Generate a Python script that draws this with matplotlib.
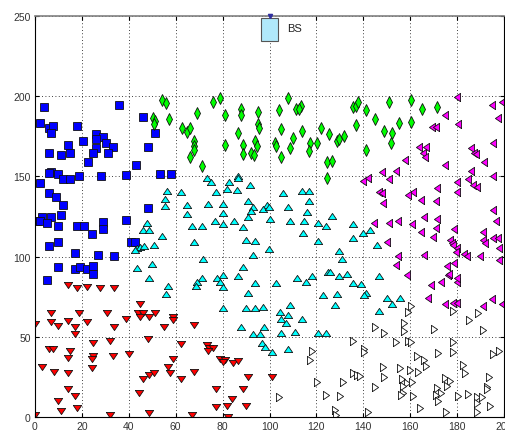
import numpy as np
import matplotlib
matplotlib.use("Agg")
import matplotlib.pyplot as plt
from matplotlib.patches import Rectangle

# node positions per cluster (x, y)
blue_pts = [(4.0,193.3),(35.8,194.4),(45.9,187.1),(2.1,183.0),(6.1,180.1),(7.8,181.3),(6.8,176.8),
            (17.8,181.3),(13.9,169.5),(20.3,172.2),(26.0,176.3),(28.9,174.3),(26.0,173.6),(30.3,170.7),
            (33.1,168.4),(26.0,168.0),(51.0,176.9),(48.0,168.6),(6.1,164.9),(11.1,163.4),(14.9,164.5),
            (24.9,164.5),(31.3,164.5),(48.0,130.0),(22.7,159.1),(43.1,157.2),(2.1,145.6),(6.8,152.5),
            (5.9,152.0),(9.9,151.4),(11.8,148.3),(14.9,148.3),(18.9,150.4),(28.0,150.4),(38.8,151.0),
            (53.3,151.4),(57.9,151.4),(6.1,139.4),(9.0,137.3),(11.8,132.3),(11.1,125.9),(2.9,124.8),
            (6.8,124.4),(0.7,122.3),(2.1,122.3),(5.0,120.9),(9.9,118.8),(17.8,118.8),(21.0,118.8),
            (28.9,121.7),(28.9,117.1),(24.2,114.0),(38.8,122.9),(6.1,106.4),(9.9,109.2),(17.1,102.2),
            (26.7,100.9),(33.8,100.5),(40.8,109.2),(42.6,109.2),(9.9,93.3),(17.1,92.2),(19.2,93.3),
            (22.0,92.2),(24.9,94.3),(24.9,89.1),(5.0,85.5)]

green_pts = [(54.0,197.5),(55.7,195.6),(50.4,186.7),(51.2,184.6),(50.7,182.6),(57.1,185.7),(69.0,189.4),
             (62.8,179.9),(65.0,177.8),(66.1,179.9),(67.8,172.2),(67.8,169.0),(75.8,196.1),(78.9,198.6),
             (81.0,188.2),(81.0,169.5),(87.8,191.9),(87.8,188.2),(95.0,190.2),(86.7,176.8),(88.8,169.5),
             (95.0,182.6),(95.7,179.9),(93.8,172.2),(94.8,169.0),(108.0,198.6),(104.2,191.5),(111.3,192.3),
             (113.3,194.0),(112.6,191.9),(104.8,179.4),(109.9,173.8),(114.0,178.4),(102.3,171.1),
             (102.8,168.7),(108.7,167.4),(117.3,170.7),(120.1,170.7),(122.0,180.1),(125.4,176.3),
             (67.8,166.4),(66.1,161.8),(71.1,156.2),(88.8,163.9),(92.0,164.9),(93.4,163.2),(104.9,161.8),
             (117.0,165.9),(124.6,159.1),(124.6,148.7),(128.9,172.2),(129.6,173.2),(131.8,175.3),
             (135.5,193.0),(136.9,193.6),(137.9,196.5),(136.9,182.1),(141.0,191.3),(145.0,185.7),
             (151.1,196.1),(148.8,178.4),(152.1,176.9),(151.8,170.7),(155.2,183.0),(160.2,197.7),
             (160.2,184.0),(164.9,192.3),(171.3,193.3),(141.0,166.5),(126.8,159.7)]

magenta_pts = [(179.8,199.2),(174.8,188.2),(180.5,182.6),(169.2,180.5),(171.0,180.5),(194.7,194.4),
               (199.3,196.5),(197.6,186.1),(195.4,170.7),(185.8,168.0),(163.9,168.3),(166.7,168.3),
               (165.6,164.9),(166.3,162.4),(187.2,164.9),(188.1,163.9),(157.8,160.3),(174.8,157.2),
               (191.5,158.7),(147.8,152.8),(153.9,153.1),(185.8,153.1),(140.0,147.2),(142.1,149.3),
               (151.1,148.3),(184.5,148.3),(179.8,146.2),(195.2,150.4),(186.6,144.5),(188.4,143.5),
               (146.8,140.0),(147.8,139.6),(171.6,142.5),(179.8,140.4),(161.1,140.4),(159.2,138.3),
               (164.5,135.2),(171.0,134.8),(148.5,133.3),(195.4,129.2),(196.6,122.3),(144.6,121.2),
               (151.0,121.2),(154.9,122.3),(165.9,125.0),(171.6,123.4),(160.6,120.2),(164.5,115.5),
               (171.0,117.6),(169.9,112.3),(178.8,117.1),(191.2,115.5),(150.0,109.2),(177.0,110.5),
               (177.7,108.4),(178.4,107.2),(179.8,105.1),(179.5,102.6),(191.2,110.3),(191.9,108.4),
               (195.4,111.3),(197.6,111.3),(197.9,105.1),(182.9,101.6),(184.1,100.5),(189.8,100.5),
               (197.9,98.0),(154.9,100.5),(165.9,100.9),(153.9,94.7),(158.8,88.5),(175.6,94.3),
               (178.8,96.0),(176.2,88.5),(176.6,89.1),(179.8,84.3),(180.1,86.4),(168.7,82.2),(173.0,83.9),
               (167.7,74.0),(174.8,70.4),(178.4,70.8),(179.8,71.2),(190.9,69.2),(195.0,73.3),(199.3,70.4)]

cyan_pts = [(47.9,120.9),(46.2,116.7),(48.7,116.7),(54.0,112.6),(43.4,105.1),(44.8,105.7),(46.5,106.4),
            (42.6,104.2),(50.9,107.2),(56.2,141.0),(55.4,135.8),(55.4,131.7),(43.6,92.6),(49.8,95.3),
            (48.7,86.4),(56.9,81.8),(73.2,148.7),(75.1,146.6),(86.7,150.4),(86.7,148.7),(82.9,146.6),
            (82.0,142.1),(86.0,141.6),(91.7,144.5),(62.1,140.0),(77.1,140.0),(64.7,132.3),(73.9,132.7),
            (80.0,132.7),(91.0,134.8),(93.1,131.0),(92.0,128.5),(98.8,132.1),(97.4,129.6),(99.9,130.7),
            (100.2,123.4),(64.7,126.5),(80.0,127.1),(76.8,122.3),(66.8,118.8),(71.1,118.8),(80.3,120.2),
            (84.9,122.3),(91.0,124.4),(88.8,118.2),(105.9,139.6),(113.7,141.0),(117.0,141.0),
            (117.0,134.8),(108.0,130.7),(115.9,127.9),(108.7,122.3),(114.7,122.3),(120.8,120.9),
            (124.0,118.8),(114.2,114.6),(120.8,109.8),(90.0,110.5),(93.9,109.8),(99.9,104.7),
            (93.1,100.9),(67.8,108.8),(71.8,98.4),(88.8,93.6),(86.7,88.0),(80.0,88.5),(77.5,86.4),
            (78.9,83.9),(80.0,81.2),(71.1,86.4),(69.0,84.3),(68.5,81.8),(93.8,83.5),(102.8,83.5),
            (111.6,86.4),(115.6,84.3),(118.0,87.7),(124.8,90.2),(126.8,125.4),(135.7,120.6),
            (135.7,111.3),(140.0,114.6),(142.9,116.5),(146.0,107.2),(129.6,103.6),(130.8,98.4),
            (125.8,90.5),(129.6,88.0),(133.2,89.1),(135.7,83.5),(138.9,82.9),(146.7,88.0),(55.9,76.6),
            (80.0,67.7),(90.0,67.7),(93.8,67.7),(97.1,68.7),(90.7,77.1),(122.7,76.0),(104.5,65.6),
            (108.7,69.8),(108.0,63.6),(104.9,60.9),(107.0,58.4),(113.7,60.9),(104.8,52.5),(110.9,53.1),
            (87.7,56.3),(97.8,56.3),(93.1,51.7),(95.9,51.7),(96.7,46.3),(98.1,43.8),(100.9,40.3),
            (108.0,42.2),(120.8,52.5),(124.0,52.5),(141.0,77.5),(140.3,76.0),(128.7,76.6),(127.9,69.8),
            (146.8,66.2),(150.0,74.0),(152.1,70.4),(155.7,74.0)]

red_pts = [(13.9,82.2),(17.8,80.2),(22.3,81.2),(27.7,80.2),(33.8,80.2),(0.0,57.8),(6.7,65.0),(6.7,59.0),
           (9.9,56.9),(13.9,60.0),(17.1,55.9),(17.1,51.7),(18.9,65.0),(22.3,59.0),(30.8,65.0),(33.8,55.9),
           (38.8,60.9),(44.8,70.2),(43.8,65.0),(45.9,64.6),(44.8,62.1),(48.7,62.1),(51.2,65.0),(55.1,55.9),
           (48.1,48.6),(6.1,42.4),(7.8,42.7),(14.9,41.1),(13.9,36.6),(24.9,45.9),(32.0,47.4),(24.9,38.0),
           (24.2,35.9),(24.2,30.3),(33.1,38.0),(40.2,39.3),(2.8,31.0),(8.1,28.2),(13.9,27.2),(13.9,17.3),
           (9.9,10.2),(10.9,3.9),(17.1,13.1),(18.0,5.4),(0.0,1.2),(32.0,1.2),(48.7,2.3),(44.5,15.1),
           (45.9,23.5),(48.7,26.2),(50.9,27.2),(56.9,31.0),(57.6,27.6),(58.7,62.1),(58.7,60.4),(67.9,57.3),
           (62.1,45.5),(73.2,44.9),(74.3,42.8),(76.0,42.8),(73.9,41.3),(58.7,36.1),(67.8,28.2),(62.1,24.0),
           (78.9,36.1),(81.0,35.5),(80.0,34.5),(84.6,33.8),(86.7,35.1),(91.0,24.7),(100.9,24.7),(77.1,17.3),
           (88.8,17.3),(84.1,11.0),(77.1,6.4),(82.0,6.9),(90.0,6.9),(66.8,1.2),(82.2,0.0)]

white_pts = [(118.0,41.3),(117.3,35.5),(120.1,22.0),(124.1,13.7),(104.2,12.3),(160.2,69.2),(159.2,65.6),
             (178.1,66.2),(189.0,64.6),(185.2,60.4),(145.0,55.9),(148.8,52.1),(157.4,58.8),(157.4,53.8),
             (170.1,54.6),(191.2,54.2),(135.7,47.4),(140.3,42.2),(140.3,40.7),(153.9,46.9),(159.2,47.5),
             (160.2,46.9),(178.1,46.9),(178.1,40.7),(172.0,40.1),(195.2,39.3),(197.9,41.3),(162.8,38.0),
             (165.9,35.5),(166.7,31.8),(135.7,27.6),(137.2,26.2),(138.6,25.5),(148.5,31.0),(148.8,25.1),
             (155.7,30.3),(159.9,29.3),(163.5,28.2),(182.6,32.4),(183.5,27.6),(193.7,25.1),(156.4,23.5),
             (158.8,21.4),(160.6,22.0),(174.8,24.1),(177.0,22.4),(175.6,19.3),(131.2,22.0),(145.0,18.9),
             (171.3,17.9),(173.1,14.8),(171.0,13.7),(172.0,10.2),(157.1,19.3),(157.1,14.8),(155.9,13.7),
             (161.3,13.1),(180.5,13.1),(184.8,14.3),(188.4,12.3),(190.5,12.6),(188.4,8.9),(192.6,18.9),
             (192.6,17.3),(194.0,6.9),(188.4,3.3),(164.2,5.4),(175.3,3.3),(130.1,13.1),(127.9,4.4),
             (128.4,1.2),(142.1,3.3)]

bs_x, bs_y = 100, 241.5
bs_label = "BS"

xticks = [0, 20, 40, 60, 80, 100, 120, 140, 160, 180, 200]
yticks = [0, 50, 100, 150, 200, 250]

# MATLAB-like triangles: wider than tall
tri_up = [(-1, -0.74), (1, -0.74), (0, 0.74), (-1, -0.74)]
tri_down = [(-1, 0.74), (1, 0.74), (0, -0.74), (-1, 0.74)]
tri_left = [(0.74, -1), (0.74, 1), (-0.74, 0), (0.74, -1)]
tri_right = [(-0.74, -1), (-0.74, 1), (0.74, 0), (-0.74, -1)]

fig = plt.figure(figsize=(5.05, 4.31), dpi=100)
ax = fig.add_axes([35/505, 13/431, 469/505, 401/431])

groups = [
    (blue_pts, 's', '#0000ff', 5.2),
    (green_pts, 'd', '#00ff00', 5.8),
    (magenta_pts, tri_left, '#ff00ff', 6.0),
    (cyan_pts, tri_up, '#00ffff', 6.0),
    (red_pts, tri_down, '#ff0000', 6.0),
    (white_pts, tri_right, '#ffffff', 6.0),
]
for pts, mk, col, ms in groups:
    a = np.array(pts)
    ax.plot(a[:, 0], a[:, 1], linestyle='none', marker=mk, markersize=ms,
            markerfacecolor=col, markeredgecolor='#111111', markeredgewidth=0.6)

# base station
ax.add_patch(Rectangle((bs_x - 3.7, bs_y - 7.2), 7.4, 14.4, facecolor='#b0e8fa',
                       edgecolor='#555555', linewidth=0.8, zorder=3))
ax.plot([bs_x], [250], marker='v', markersize=3, color='#3030a0', clip_on=False, zorder=4)
ax.text(bs_x + 7.5, bs_y + 1, bs_label, fontsize=8, family='Liberation Sans',
        va='center', ha='left', color='#222222')

ax.set_xlim(0, 200)
ax.set_ylim(0, 250)
ax.set_xticks(xticks)
ax.set_yticks(yticks)
ax.grid(True, linestyle=(0, (1, 3)), color='k', linewidth=0.6)
ax.tick_params(direction='in', top=True, right=True, length=3, labelsize=7.5,
               labelcolor='#333333', pad=3)
for lab in ax.get_xticklabels() + ax.get_yticklabels():
    lab.set_family('Liberation Sans')
ax.spines['top'].set_color('#808080')
ax.spines['top'].set_linewidth(1.2)
for s in ['left', 'bottom', 'right']:
    ax.spines[s].set_color('k')
    ax.spines[s].set_linewidth(0.8)

fig.savefig("out.png", dpi=100)
